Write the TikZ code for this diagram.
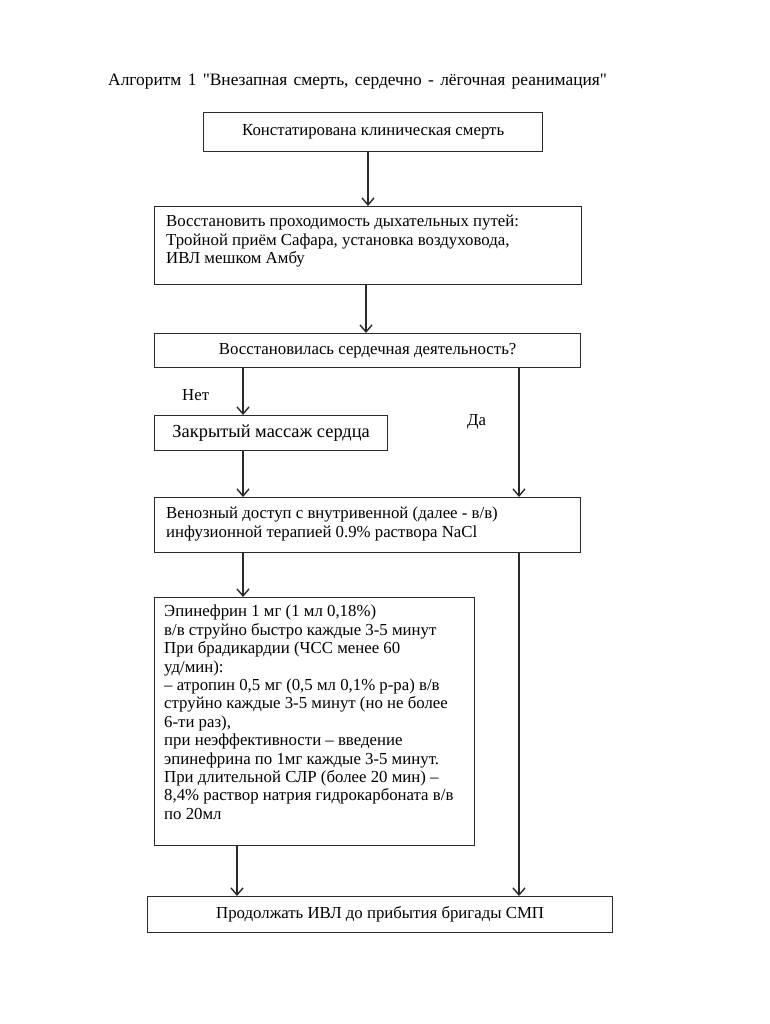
\documentclass[tikz,border=0pt]{standalone}
\usepackage{fontspec}
\setmainfont{Liberation Serif}
\newfontfamily\qf{Liberation Serif}[Ligatures=ResetAll]
\usetikzlibrary{arrows.meta}
\definecolor{ln}{HTML}{2A2A2A}
\tikzset{
  box/.style={draw=ln, line width=1.3pt, rectangle, inner sep=0pt, anchor=north west},
  txt/.style={inner sep=0pt, font=\fontsize{16.8}{18.8}\selectfont, text=black},
  ltxt/.style={txt, anchor=north west, align=left},
  arr/.style={draw=ln, line width=1.4pt, -{Straight Barb[length=7pt,width=12pt,line width=1.4pt]}},
  plain/.style={draw=ln, line width=1.3pt}
}
\begin{document}
\begin{tikzpicture}[x=1pt,y=-1pt]
\useasboundingbox (0,0) rectangle (770,1024);
\node[txt, anchor=base west, font=\fontsize{17.4}{19}\selectfont] (title) at (108,86) {\spaceskip=6.3pt plus 1pt\relax Алгоритм 1 {\qf"}Внезапная смерть, сердечно - лёгочная реанимация{\qf"}};

\node[box, minimum width=339pt, minimum height=39pt] (b1) at (203,112) {};
\node[txt] (t1) at (b1.center) {Констатирована клиническая смерть};

\node[box, minimum width=427pt, minimum height=78pt] (b2) at (154,206) {};
\node[ltxt] (t2) at (166,214.5) {Восстановить проходимость дыхательных путей:\\Тройной приём Сафара, установка воздуховода,\\ИВЛ мешком Амбу};

\node[box, minimum width=426pt, minimum height=34pt] (b3) at (154,333) {};
\node[txt] (t3) at (b3.center) {Восстановилась сердечная деятельность?};

\node[txt, anchor=base west] (no) at (182,400) {Нет};
\node[txt, anchor=base west] (yes) at (467,425) {Да};

\node[box, minimum width=233pt, minimum height=35pt] (b4) at (154,415) {};
\node[txt, font=\fontsize{18.4}{20}\selectfont] (t4) at (b4.center) {Закрытый массаж сердца};

\node[box, minimum width=426pt, minimum height=55pt] (b5) at (154,497) {};
\node[ltxt] (t5) at (166,507) {Венозный доступ с внутривенной (далее - в/в)\\инфузионной терапией 0.9\% раствора NaCl};

\node[box, minimum width=320pt, minimum height=248pt] (b6) at (154,597) {};
\node[txt, anchor=north west, align=left, font=\fontsize{16.8}{18.4}\selectfont] (t6) at (164,605) {Эпинефрин 1 мг (1 мл 0,18\%)\\в/в струйно быстро каждые 3-5 минут\\При брадикардии (ЧСС менее 60\\уд/мин):\\– атропин 0,5 мг (0,5 мл 0,1\% р-ра) в/в\\струйно каждые 3-5 минут (но не более\\6-ти раз),\\при неэффективности – введение\\эпинефрина по 1мг каждые 3-5 минут.\\При длительной СЛР (более 20 мин) –\\8,4\% раствор натрия гидрокарбоната в/в\\по 20мл};

\node[box, minimum width=465pt, minimum height=36pt] (b7) at (147,896) {};
\node[txt] (t7) at (b7.center) {Продолжать ИВЛ до прибытия бригады СМП};

\coordinate (xa) at (368,0);
\coordinate (xb) at (366,0);
\coordinate (xl) at (243,0);
\coordinate (xr) at (519,0);
\coordinate (xc) at (237,0);

\draw[arr] (b1.south -| xa) -- (b2.north -| xa);
\draw[arr] (b2.south -| xb) -- (b3.north -| xb);
\draw[arr] (b3.south -| xl) -- (b4.north -| xl);
\draw[arr] (b4.south -| xl) -- (b5.north -| xl);
\draw[arr] (b3.south -| xr) -- (b5.north -| xr);
\draw[arr] (b5.south -| xl) -- (b6.north -| xl);
\draw[arr] (b5.south -| xr) -- (b7.north -| xr);
\draw[arr] (b6.south -| xc) -- (b7.north -| xc);
\end{tikzpicture}
\end{document}
